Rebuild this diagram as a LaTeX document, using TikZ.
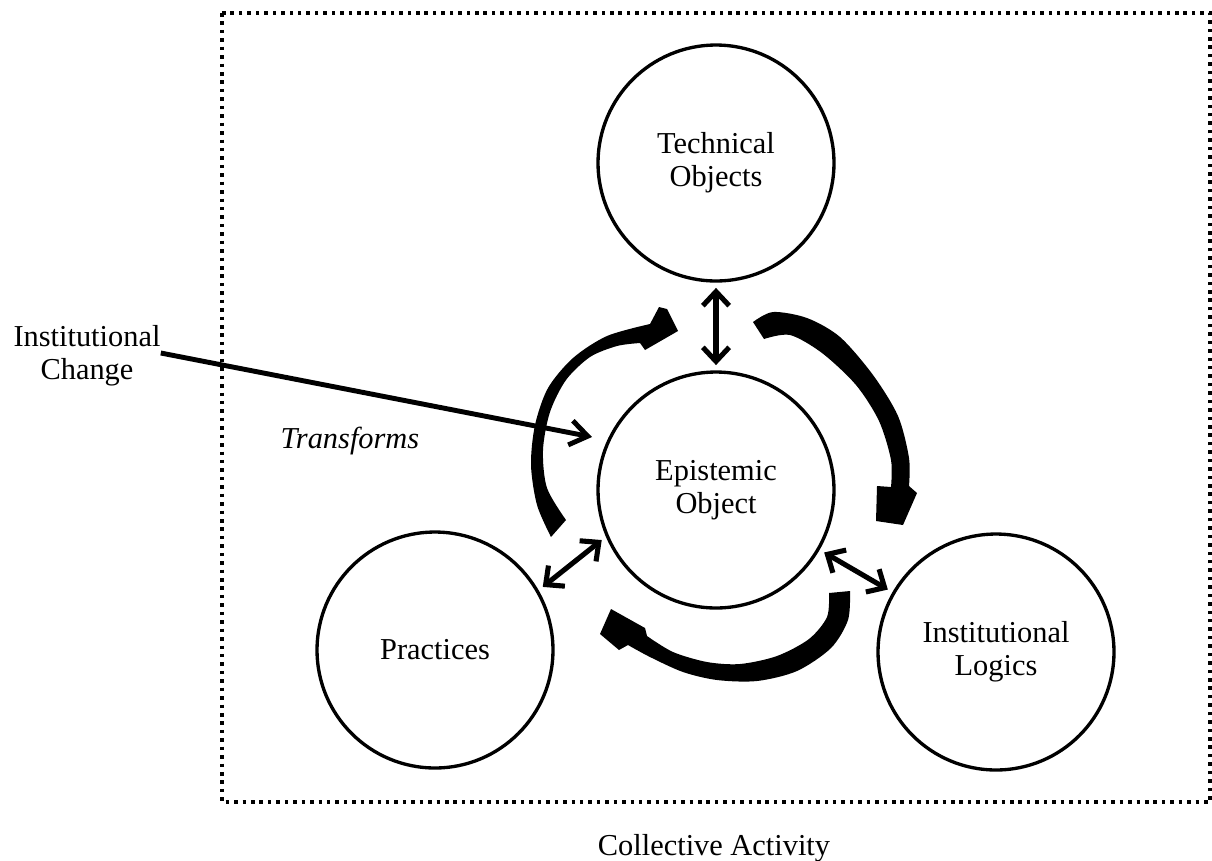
\documentclass[tikz,border=0pt]{standalone}
\usepackage{fontspec}
\setmainfont{Liberation Serif}
\usetikzlibrary{arrows.meta}
\newcommand\lblfont{\fontsize{17.3}{18.6}\selectfont}
\begin{document}
\begin{tikzpicture}[x=0.02cm,y=-0.02cm,
  circ/.style={circle,draw,line width=1.9pt,minimum size=4.72cm,inner sep=0pt,align=center,font=\lblfont},
  lbl/.style={align=center,font=\lblfont,inner sep=0pt},
  dblarrow/.style={line width=2.9pt,{Straight Barb[length=8pt,width=15pt]}-{Straight Barb[length=8pt,width=15pt]},shorten <=3pt,shorten >=3pt},
  onearrow/.style={line width=2.8pt,-{Straight Barb[length=10pt,width=14pt]}},
  blockarrow/.style={fill=black},
  border/.style={line width=2pt,dash pattern=on 2pt off 2.8pt}
]
\useasboundingbox (0,0) rectangle (1212,860);
% dotted frame
\draw[border] (222,13) rectangle (1210,802);

% circles
\node[circ] (tech) at (716,163) {Technical\\Objects};
\node[circ] (epi) at (716,490) {Epistemic\\Object};
\node[circ] (prac) at (435,650) {Practices};
\node[circ] (logic) at (996,652) {Institutional\\Logics};

% labels
\node[lbl] (ic) at (87,356) {Institutional\\Change};
\node[lbl,font=\lblfont\itshape] (tr) at (350,441) {Transforms};
\node[lbl,anchor=base] (ca) at (714,855) {Collective Activity};

% double arrows
\draw[dblarrow] (tech.south) -- (epi.north);
\draw[dblarrow] (prac.30) -- (epi.203);
\draw[dblarrow] (epi.-30) -- (logic.150);

% institutional change arrow
\coordinate (ictip) at (592,437);
\draw[onearrow] (ic.east) ++(0,-3) -- (ictip);

% curved block arrows
\fill[blockarrow] plot[smooth] coordinates {(551,537) (537,505) (531,465) (535,425) (548,388) (573,358) (607,336) (650,324)}
  -- (659,307) -- (667,309) -- (678,331) -- (645,350)
  -- plot[smooth] coordinates {(640,343) (617,346) (590,357) (566,380) (550,412) (543,450) (547,488) (566,520)} -- cycle;

\fill[blockarrow] plot[smooth] coordinates {(753,322) (773,312) (807,318) (840,337) (873,375) (898,416) (909,458) (909,486)}
  -- (917,493) -- (903,525) -- (876,521) -- (877,486)
  -- plot[smooth] coordinates {(891,487) (891,460) (879,421) (856,385) (822,353) (790,335) (764,339)} -- cycle;

\fill[blockarrow] plot[smooth] coordinates {(850,591) (848,620) (831,648) (797,671) (757,681) (717,680) (683,672) (650,657) (628,645)}
  -- (619,650) -- (600,634) -- (611,609) -- (645,628)
  -- plot[smooth] coordinates {(647,636) (673,652) (707,662) (740,664) (777,656) (809,639) (827,617) (829,593)} -- cycle;
\end{tikzpicture}
\end{document}
